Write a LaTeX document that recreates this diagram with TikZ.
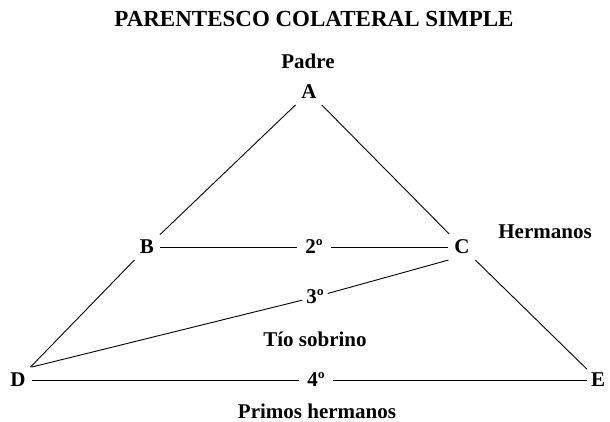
\documentclass[tikz,border=0pt]{standalone}
\usepackage{fontspec}
\setmainfont{Liberation Serif}
\begin{document}
\begin{tikzpicture}[x=1pt,y=-1pt,
  lbl/.style={font=\fontsize{21}{24}\selectfont\bfseries, inner sep=0pt},
  pt/.style={lbl, inner sep=6pt, outer sep=0pt},
  conn/.style={line width=0.9pt}]
\useasboundingbox (0,0) rectangle (610,422);
\node[font=\fontsize{23}{26}\selectfont\bfseries, inner sep=0pt] (title) at (314,19) {PARENTESCO COLATERAL SIMPLE};
\node[lbl] (padre) at (308,61) {Padre};
\node[pt] (A) at (309,92) {A};
\node[pt] (B) at (147,247) {B};
\node[pt] (C) at (462,247) {C};
\node[lbl] (herm) at (545,232) {Hermanos};
\node[pt, inner sep=8pt] (n2) at (314,247) {2º};
\node[pt, inner sep=4pt] (n3) at (315,297) {3º};
\node[lbl] (tio) at (315,339) {Tío sobrino};
\node[pt] (D) at (18,380) {D};
\node[pt, inner sep=8pt] (n4) at (316,380) {4º};
\node[pt, inner sep=4pt] (E) at (598,380) {E};
\node[lbl] (primos) at (317,411) {Primos hermanos};
\draw[conn] (A) -- (B);
\draw[conn] (B) -- (D);
\draw[conn] (A) -- (C);
\draw[conn] (C) -- (E);
\draw[conn] (B) -- (n2);
\draw[conn] (n2) -- (C);
\draw[conn] (D.north east) -- (n3);
\draw[conn] (n3) -- (C.south west);
\draw[conn] (D) -- (n4);
\draw[conn] (n4) -- (E);
\end{tikzpicture}
\end{document}
